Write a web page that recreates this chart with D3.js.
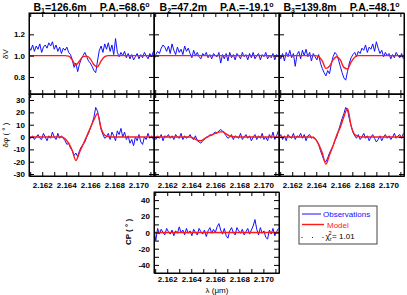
<!DOCTYPE html>
<html>
<head>
<meta charset="utf-8">
<script src="https://cdn.jsdelivr.net/npm/d3@7"></script>
<style>
body { margin: 0; background: #fff; }
text { font-family: "Liberation Sans", Arial, sans-serif; }
</style>
</head>
<body>
<div id="chart"></div>
<script>
// wavelength sampling (microns)
var lamStart = 2.1609;
var obsStep = 0.00015;
var modStep = 0.0003;

var baseNum = ["1", "2", "3"];
var baseLen = ["126.6m", "47.2m", "139.8m"];
var posAngle = ["68.6", "-19.1", "48.1"];

// differential visibility, observed
var dV1 = [1.08,1.05,1.10,1.04,1.09,1.06,1.11,1.03,1.08,1.10,
           1.07,1.12,1.09,1.13,1.06,1.10,1.04,1.08,1.02,1.07,
           1.05,1.08,1.03,1.01,0.96,0.89,0.93,0.85,0.92,0.97,
           1.00,1.03,0.99,0.95,0.93,0.90,0.86,0.84,0.95,1.05,
           1.09,1.03,1.11,1.06,1.12,1.04,1.10,1.01,1.16,1.03,
           0.99,1.03,1.00,1.04,0.98,1.02,0.97,1.01,0.96,0.99,
           1.02,0.97,1.01,0.98,1.03,1.00,0.97,1.02,0.99,1.04];
var dV2 = [0.96,1.01,1.04,1.02,1.07,1.10,1.08,1.04,1.09,1.02,
           1.11,1.05,1.01,1.08,1.03,1.06,1.01,1.09,1.04,1.07,
           1.02,0.98,1.05,1.00,1.03,0.99,0.97,1.02,1.00,1.03,
           0.98,1.01,0.97,1.02,1.00,0.99,1.03,0.93,1.01,0.97,
           1.02,0.95,1.03,0.98,1.01,0.96,1.02,1.00,0.97,1.03,
           0.99,1.01,0.96,1.02,0.98,1.03,0.97,1.00,1.02,0.96,
           1.01,0.99,1.03,0.97,1.00,0.98,1.02,0.96,1.01,0.99];
var dV3 = [1.01,0.97,1.02,0.95,1.03,0.99,1.05,0.98,1.02,0.90,
           1.01,1.04,0.97,1.05,1.00,1.06,0.99,1.03,0.95,1.02,
           0.99,0.96,1.01,0.93,0.88,0.84,0.81,0.86,0.83,0.92,
           0.99,1.03,1.01,0.96,0.90,0.84,0.79,0.77,0.85,0.93,
           0.98,1.01,1.03,0.99,1.04,1.02,1.07,1.05,1.10,1.03,
           1.08,1.06,1.11,1.04,1.13,1.07,1.02,1.05,0.99,1.03,
           1.00,1.02,0.97,1.01,0.98,1.03,1.00,0.98,1.02,0.97];

// differential visibility, model
var dVmod1 = [1,1,1,1,1,1,1,1,1,1,1,0.995,0.96,0.91,0.95,0.99,0.995,0.97,0.915,0.895,
              0.95,0.99,1,1,1,1,1,1,1,1,1,1,1,1,1,1];
var dVmod2 = [1,1,1,1,1,1,1,1,1,1,1,1,1,1,1,1,1,1,1,1,
              1,1,1,1,1,1,1,1,1,1,1,1,1,1,1,1];
var dVmod3 = [1,1,1,1,1,1,1,1,1,1,1,0.99,0.95,0.88,0.9,0.96,0.99,0.96,0.89,0.875,
              0.94,0.985,1,1,1,1,1,1,1,1,1,1,1,1,1,1];

// differential phase (deg), observed
var dphi1 = [0,-1,1,-2,0,2,-1,-2,3,0,
             -3,1,-1,4,0,-2,3,-1,1,-1,
             -3,-6,-5,-9,-11,-15,-13,-16,-11,-8,
             -6,-4,0,3,7,11,16,24,21,14,
             6,2,-1,0,3,-2,4,1,-3,5,
             2,7,0,4,-2,1,-5,-2,-7,0,
             -3,2,-4,-6,0,-2,3,-1,1,-2];
var dphi2 = [0,-2,1,-1,2,-3,1,0,2,-1,
             1,-2,2,0,-1,3,-2,1,-1,0,
             2,-1,-2,1,-3,-4,-5,-3,-2,0,
             0,2,1,3,4,3,5,6,5,3,
             1,-1,0,2,-2,1,0,-1,3,-2,
             0,2,-1,1,-3,0,2,-2,1,-1,
             3,-2,0,-3,2,-1,4,-2,1,5];
var dphi3 = [0,2,-2,1,-3,2,0,-1,3,-2,
             1,0,3,-1,2,-3,1,2,-1,0,
             -1,-3,-6,-11,-15,-19,-20,-17,-13,-10,
             -7,-3,0,5,10,15,19,24,22,15,
             9,4,1,-1,2,-2,0,3,-1,1,
             -3,0,2,-1,-4,-2,1,-3,0,2,
             -1,1,-2,0,3,-1,1,2,-1,3];

// differential phase (deg), model
var dphiMod1 = [0,0,0,0,0,0,0,0,0,0,-1.5,-5,-11,-19,-12.6,-6,0.7,7.3,14,19,
                7,1.5,0.3,0,0,0,0,0,0,0,0,0,0,0,0,0];
var dphiMod2 = [0,0,0,0,0,0,0,0,0,0,0,-1,-2.5,-3,-1.2,0.4,1.8,3,4,4.3,
                2.5,0.8,0.2,0,0,0,0,0,0,0,0,0,0,0,0,0];
var dphiMod3 = [0,0,0,0,0,0,0,0,0,0,-1.5,-6,-13,-22,-14.5,-7,1.5,8,16.5,23,
                9,2,0.5,0,0,0,0,0,0,0,0,0,0,0,0,0];

// closure phase (deg)
var cpObs = [3,-10,5,-2,4,0,-3,5,1,-2,
             3,-4,2,-1,7,0,3,-3,5,-1,
             2,-4,4,0,-3,5,1,-2,3,-5,
             2,6,-1,4,0,7,11,3,-2,5,
             -4,-7,2,6,0,-3,6,2,-1,4,
             -3,1,5,-2,3,8,16,4,-3,6,
             -1,2,-6,-8,3,-2,5,-4,1,5];
var cpMod = [0,0,0,0,0,0,0,0,0,0,0,0,0,0,0,0,0,0,0,0,
             0,0,0,0,0,0,0,0,0,0,0,0,0,0,0,0];

var xTicks = [2.161, 2.162, 2.163, 2.164, 2.165, 2.166, 2.167, 2.168, 2.169, 2.170, 2.171];
var xLabels = [2.162, 2.164, 2.166, 2.168, 2.170];
var dVTicks = [0.8, 1.0, 1.2];
var dphiTicks = [-30, -20, -10, 0, 10, 20, 30];
var cpTicks = [-40, -30, -20, -10, 0, 10, 20, 30, 40];
var cpLabels = [-40, -20, 0, 20, 40];

var W = 407, H = 295;
var pw = 125;
var lefts = [29, 154, 279];

var svg = d3.select("#chart").append("svg")
    .attr("width", W)
    .attr("height", H);

var x = d3.scaleLinear().domain([2.1609, 2.1713]).range([0, pw]);

var clipN = 0;

function drawPanel(left, top, h, y, yTicks, yLabels, yFmt, obs, mod, xLab, xPad) {
    var g = svg.append("g").attr("transform", "translate(" + left + "," + top + ")");

    var id = "clip" + (clipN++);
    g.append("clipPath").attr("id", id)
        .append("rect").attr("width", pw).attr("height", h);

    var obsLine = d3.line()
        .x(function(d, i) { return x(lamStart + i * obsStep); })
        .y(function(d) { return y(d); });
    var modLine = d3.line()
        .x(function(d, i) { return x(lamStart + i * modStep); })
        .y(function(d) { return y(d); })
        .curve(d3.curveMonotoneX);

    var lines = g.append("g").attr("clip-path", "url(#" + id + ")");
    lines.append("path").datum(obs)
        .attr("d", obsLine)
        .attr("fill", "none")
        .attr("stroke", "#1010ff")
        .attr("stroke-width", 1);
    lines.append("path").datum(mod)
        .attr("d", modLine)
        .attr("fill", "none")
        .attr("stroke", "#ff1a1a")
        .attr("stroke-width", 1.4);

    var xFmt = function(d) {
        return xLab && xLabels.some(function(v) { return Math.abs(v - d) < 1e-6; }) ? d.toFixed(3) : "";
    };
    var yF = function(d) {
        return yLabels && yLabels.some(function(v) { return Math.abs(v - d) < 1e-6; }) ? yFmt(d) : "";
    };

    var axes = [
        g.append("g").attr("transform", "translate(0," + h + ")")
            .call(d3.axisBottom(x).tickValues(xTicks).tickSizeInner(-4).tickSizeOuter(0).tickPadding(xPad).tickFormat(xFmt)),
        g.append("g")
            .call(d3.axisTop(x).tickValues(xTicks).tickSizeInner(-4).tickSizeOuter(0).tickFormat("")),
        g.append("g")
            .call(d3.axisLeft(y).tickValues(yTicks).tickSizeInner(-5).tickSizeOuter(0).tickPadding(4).tickFormat(yF)),
        g.append("g").attr("transform", "translate(" + pw + ",0)")
            .call(d3.axisRight(y).tickValues(yTicks).tickSizeInner(-5).tickSizeOuter(0).tickFormat(""))
    ];
    axes.forEach(function(a) {
        a.attr("font-size", 8)
            .attr("font-family", "Liberation Sans, Arial, sans-serif")
            .attr("font-weight", "bold");
        a.selectAll("text").attr("fill", "#000");
    });

    g.append("rect")
        .attr("width", pw).attr("height", h)
        .attr("fill", "none")
        .attr("stroke", "#000")
        .attr("stroke-width", 1);
    return g;
}

var yV = d3.scaleLinear().domain([0.64, 1.40]).range([81, 0]);
var yPhi = d3.scaleLinear().domain([-31.6, 34.9]).range([82, 0]);
var yCP = d3.scaleLinear().domain([-50, 50]).range([81, 0]);

var fmt1 = function(d) { return d.toFixed(1); };
var fmtInt = function(d) { return String(d); };

var dVs = [dV1, dV2, dV3], dVmods = [dVmod1, dVmod2, dVmod3];
var dphis = [dphi1, dphi2, dphi3], dphiMods = [dphiMod1, dphiMod2, dphiMod3];

lefts.forEach(function(left, i) {
    drawPanel(left, 13, 81, yV, dVTicks, i === 0 ? dVTicks : null, fmt1, dVs[i], dVmods[i], false, 6);
    drawPanel(left, 94, 82, yPhi, dphiTicks, i === 0 ? dphiTicks : null, fmtInt, dphis[i], dphiMods[i], true, 6);

    // baseline title
    var t = svg.append("text")
        .attr("x", left + pw / 2)
        .attr("y", 10.5)
        .attr("text-anchor", "middle")
        .attr("font-weight", "bold")
        .attr("font-size", 10.5);
    t.append("tspan").text("B");
    t.append("tspan").attr("font-size", 7).attr("dy", 2).text(baseNum[i]);
    t.append("tspan").attr("dy", -2).text("=" + baseLen[i]);
    t.append("tspan").attr("dx", 13).text("P.A.=" + posAngle[i]);
    t.append("tspan").attr("font-size", 7).attr("dy", -4).text("o");
});

drawPanel(154, 192, 81, yCP, cpTicks, cpLabels, fmtInt, cpObs, cpMod, true, 3.5);

// axis titles
svg.append("text")
    .attr("transform", "translate(8,54) rotate(-90)")
    .attr("text-anchor", "middle")
    .attr("font-size", 8)
    .text("δV");
svg.append("text")
    .attr("transform", "translate(8,135) rotate(-90)")
    .attr("text-anchor", "middle")
    .attr("font-size", 8)
    .text("δφ ( ° )");
svg.append("text")
    .attr("transform", "translate(131,232) rotate(-90)")
    .attr("text-anchor", "middle")
    .attr("font-size", 8)
    .attr("font-weight", "bold")
    .text("CP ( ° )");
svg.append("text")
    .attr("x", 217).attr("y", 292.5)
    .attr("text-anchor", "middle")
    .attr("font-size", 8)
    .text("λ (μm)");

// legend
var lg = svg.append("g");
lg.append("rect")
    .attr("x", 299).attr("y", 206)
    .attr("width", 78).attr("height", 38)
    .attr("fill", "#fff")
    .attr("stroke", "#444")
    .attr("stroke-width", 1);
lg.append("line").attr("x1", 302).attr("x2", 321).attr("y1", 214).attr("y2", 214)
    .attr("stroke", "#1010ff").attr("stroke-width", 1);
lg.append("text").attr("x", 323).attr("y", 217).attr("font-size", 8)
    .attr("fill", "#1010ff").text("Observations");
lg.append("line").attr("x1", 302).attr("x2", 324).attr("y1", 224.5).attr("y2", 224.5)
    .attr("stroke", "#ff1a1a").attr("stroke-width", 1.4);
lg.append("text").attr("x", 327).attr("y", 227.5).attr("font-size", 8)
    .attr("fill", "#ff1a1a").text("Model");
[302, 312.5, 323].forEach(function(px) {
    lg.append("circle").attr("cx", px).attr("cy", 237.5).attr("r", 0.6).attr("fill", "#000");
});
var chi = lg.append("text").attr("x", 325.5).attr("y", 239).attr("font-size", 8);
chi.append("tspan").text("χ");
chi.append("tspan").attr("font-size", 5.5).attr("dy", 1.5).text("r");
chi.append("tspan").attr("font-size", 5.5).attr("dx", -3).attr("dy", -5.5).text("2");
chi.append("tspan").attr("dx", 0.5).attr("dy", 4).text("= 1.01");
</script>
</body>
</html>
